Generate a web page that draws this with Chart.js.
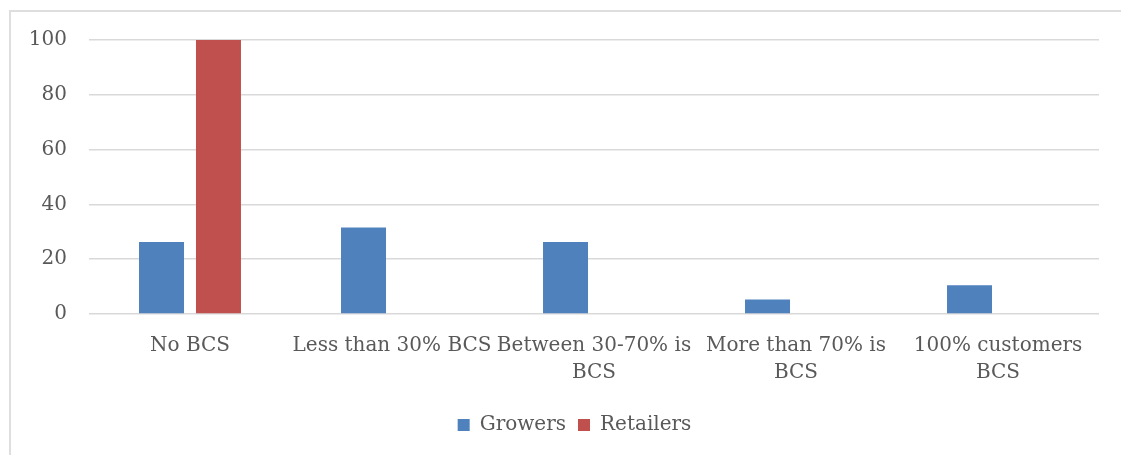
<!DOCTYPE html>
<html>
<head>
<meta charset="utf-8">
<script src="https://cdn.jsdelivr.net/npm/chart.js@4.4.0/dist/chart.umd.min.js"></script>
<style>
  html, body { margin: 0; padding: 0; background: #fff; overflow: hidden; }
  .frame { position: absolute; left: 9px; top: 10px; width: 1130px; height: 470px; border: 2px solid #dedede; box-sizing: border-box; }
  .wrap { position: absolute; left: 0; top: 0; width: 1121px; height: 455px; }
</style>
</head>
<body>
<div class="frame"></div>
<div class="wrap"><canvas id="chart"></canvas></div>
<script>
// categories and share of respondents (%) per group
const categories = [
  'No BCS',
  'Less than 30% BCS',
  ['Between 30-70% is', 'BCS'],
  ['More than 70% is', 'BCS'],
  ['100% customers', 'BCS']
];
const growers = [26.3, 31.6, 26.3, 5.3, 10.5];
const retailers = [100, 0, 0, 0, 0];
const yTicks = [0, 20, 40, 60, 80, 100];

const textColor = '#595959';
const fontFamily = '"DejaVu Serif", serif';

// nudge the legend a bit to the right of the canvas centre
const legendShift = {
  id: 'legendShift',
  afterLayout(chart) {
    if (chart.legend) {
      chart.legend.left += 25;
      chart.legend.right += 25;
    }
  }
};

new Chart(document.getElementById('chart'), {
  type: 'bar',
  data: {
    labels: categories,
    datasets: [
      { label: 'Growers', data: growers, backgroundColor: '#4F81BD', barPercentage: 0.79, categoryPercentage: 0.564 },
      { label: 'Retailers', data: retailers, backgroundColor: '#C0504D', barPercentage: 0.79, categoryPercentage: 0.564 }
    ]
  },
  plugins: [legendShift],
  options: {
    responsive: true,
    maintainAspectRatio: false,
    animation: false,
    layout: { padding: { left: 0, right: 22, top: 40, bottom: 10 } },
    plugins: {
      tooltip: { enabled: false },
      legend: {
        position: 'bottom',
        labels: {
          color: textColor,
          font: { family: fontFamily, size: 20 },
          boxWidth: 12,
          boxHeight: 12,
          padding: 12
        }
      }
    },
    scales: {
      x: {
        grid: { display: false, drawTicks: false },
        border: { display: false },
        ticks: {
          color: textColor,
          font: { family: fontFamily, size: 20, lineHeight: 1.35 },
          padding: 18,
          maxRotation: 0,
          autoSkip: false
        },
        afterFit: s => { s.height = 89; }
      },
      y: {
        min: 0,
        max: 100,
        afterBuildTicks: s => { s.ticks = yTicks.map(v => ({ value: v })); },
        grid: { color: '#d9d9d9', lineWidth: 1.5, drawTicks: false },
        border: { display: false },
        ticks: {
          color: textColor,
          font: { family: fontFamily, size: 20 },
          padding: 22
        },
        afterFit: s => { s.width = 89; }
      }
    }
  }
});
</script>
</body>
</html>
